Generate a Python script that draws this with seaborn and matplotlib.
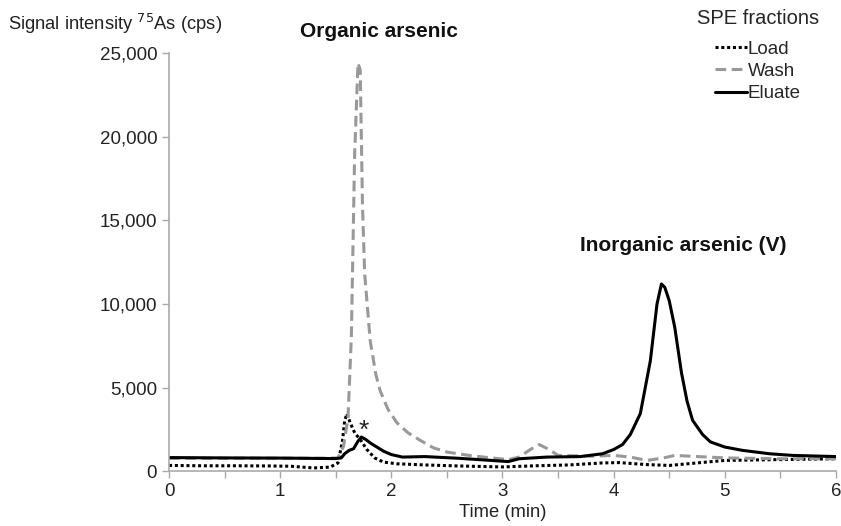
import matplotlib
matplotlib.use("Agg")
import matplotlib.pyplot as plt
import seaborn as sns
from matplotlib.ticker import FuncFormatter, MultipleLocator

# Chromatogram traces (time in min, signal in cps)
load_t = [0, 0.3, 0.6, 0.9, 1.1, 1.3, 1.45, 1.52, 1.56, 1.58, 1.60, 1.63, 1.67, 1.72,
          1.78, 1.85, 1.93, 2.05, 2.3, 2.6, 3.0, 3.3, 3.6, 3.9, 4.05, 4.3, 4.5, 4.7,
          5.0, 5.5, 6.0]
load_v = [350, 330, 330, 320, 300, 200, 250, 500, 1800, 3000, 3450, 2900, 2300, 1900,
          1300, 800, 550, 450, 380, 320, 260, 330, 380, 500, 520, 400, 350, 470,
          650, 700, 750]

wash_t = [0, 0.5, 1.0, 1.4, 1.52, 1.57, 1.61, 1.64, 1.67, 1.70, 1.72, 1.74, 1.76, 1.81,
          1.86, 1.90, 1.97, 2.05, 2.15, 2.26, 2.38, 2.5, 2.7, 2.9, 3.05, 3.15, 3.25,
          3.33, 3.42, 3.5, 3.8, 4.0, 4.15, 4.3, 4.45, 4.55, 4.7, 5.0, 5.5, 6.0]
wash_v = [780, 780, 780, 780, 800, 1500, 3200, 8000, 19000, 24400, 24000, 16000, 11800,
          7800, 5800, 4800, 3700, 2900, 2300, 1850, 1400, 1150, 950, 800, 700, 850, 1300,
          1600, 1300, 950, 900, 950, 850, 650, 800, 950, 900, 800, 750, 750]

eluate_t = [0, 0.5, 1.0, 1.5, 1.55, 1.58, 1.62, 1.66, 1.70, 1.73, 1.77, 1.82, 1.87, 1.93,
            2.0, 2.1, 2.3, 2.6, 2.9, 3.05, 3.15, 3.4, 3.7, 3.9, 4.0, 4.08, 4.15, 4.24,
            4.33, 4.39, 4.43, 4.46, 4.5, 4.55, 4.61, 4.66, 4.71, 4.8, 4.87, 5.0, 5.16,
            5.4, 5.61, 6.0]
eluate_v = [820, 800, 790, 760, 800, 1050, 1250, 1350, 1800, 2050, 1900, 1650, 1450, 1200,
            1000, 850, 880, 780, 650, 580, 750, 850, 880, 1050, 1300, 1600, 2200, 3450,
            6600, 10000, 11200, 11000, 10200, 8600, 5900, 4200, 3050, 2200, 1760, 1450,
            1250, 1050, 950, 880]

sns.set_style("white")
plt.rcParams["font.family"] = ["Liberation Sans", "DejaVu Sans"]
plt.rcParams["font.size"] = 13

fig = plt.figure(figsize=(8.41, 5.26), dpi=100)
ax = fig.add_axes([0.201, 0.104, 0.793, 0.795])

sns.lineplot(x=load_t, y=load_v, ax=ax, color="black", lw=2.2, label="Load")
ax.lines[-1].set_linestyle((0, (1, 0.9)))
sns.lineplot(x=wash_t, y=wash_v, ax=ax, color="#999999", lw=2.2, label="Wash")
ax.lines[-1].set_linestyle((0, (3.5, 1.8)))
sns.lineplot(x=eluate_t, y=eluate_v, ax=ax, color="black", lw=2.2, label="Eluate")

ax.set_xlim(0, 6)
ax.set_ylim(0, 25000)
ax.xaxis.set_major_locator(MultipleLocator(1))
ax.xaxis.set_minor_locator(MultipleLocator(0.5))
ax.yaxis.set_major_locator(MultipleLocator(5000))
ax.yaxis.set_major_formatter(FuncFormatter(lambda v, p: f"{int(v):,}"))

for side in ["top", "right"]:
    ax.spines[side].set_visible(False)
for side in ["left", "bottom"]:
    ax.spines[side].set_color("#aaaaaa")
    ax.spines[side].set_linewidth(1.2)
ax.tick_params(axis="both", which="both", direction="out", color="#aaaaaa",
               length=5, width=1, labelsize=13.5, labelcolor="#222222",
               left=True, bottom=True)

ax.set_xlabel("Time (min)", fontsize=13.2, labelpad=3, color="#222222")
ax.set_ylabel("")
fig.text(0.01, 0.955, "Signal intensity $^{75}$As (cps)", fontsize=13.2,
         va="center", color="#222222")

ax.text(1.89, 26270, "Organic arsenic", fontsize=15, fontweight="bold",
        ha="center", va="center", clip_on=False, color="#111111")
ax.text(4.63, 13520, "Inorganic arsenic (V)", fontsize=15, fontweight="bold",
        ha="center", va="center", color="#111111")
ax.text(1.755, 2400, "*", fontsize=19, ha="center", va="center")

leg = ax.legend(title="SPE fractions", loc="upper right", bbox_to_anchor=(1.0, 1.145),
                frameon=False, handlelength=1.7, handletextpad=0.05,
                labelspacing=0.28, fontsize=13.5, title_fontsize=14.5)
# a little more room between the legend title and its entries
leg._legend_box.sep = 0.28 * 13.5 + 5

fig.savefig("out.png", dpi=100)
